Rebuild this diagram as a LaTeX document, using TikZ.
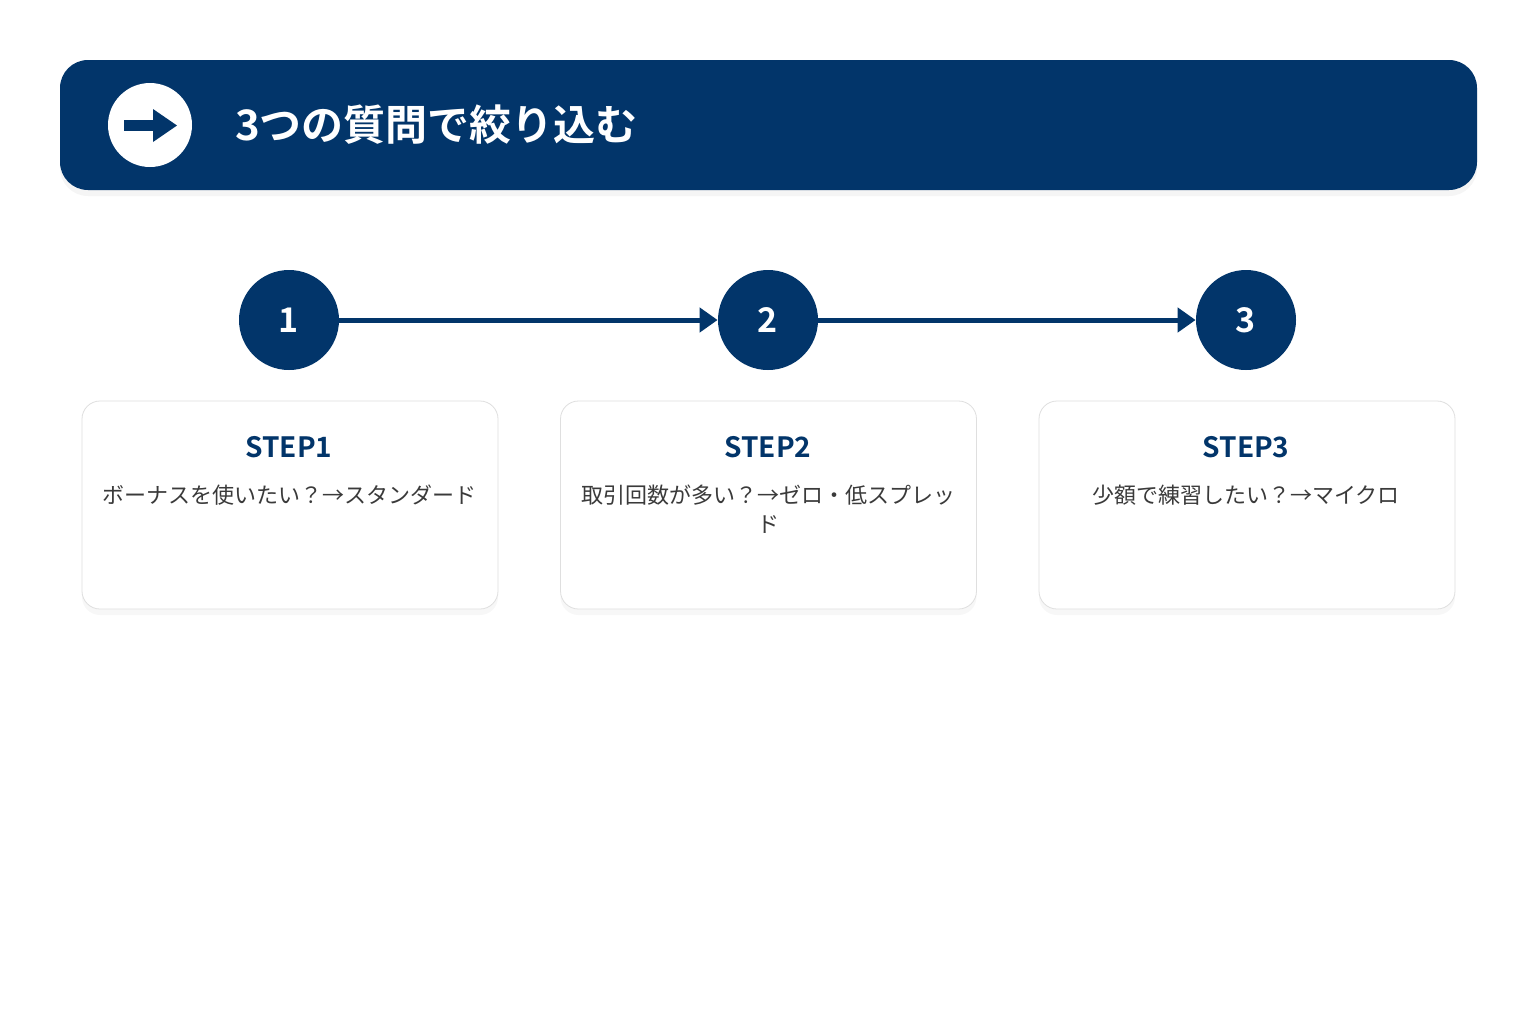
\documentclass[tikz,border=0pt]{standalone}
\usepackage{fontspec}
\setmainfont{Noto Sans CJK JP}
\newfontfamily\jpbold{Noto Sans CJK JP Bold}
\usetikzlibrary{arrows.meta,positioning,shadows}
\definecolor{navy}{HTML}{02356A}
\definecolor{bodygray}{HTML}{3A3A3A}
\tikzset{
    header/.style = {
        fill = navy,
        rounded corners=14pt,
        drop shadow={opacity=0.08, shadow xshift=0pt, shadow yshift=-3pt},
        },
    step circle/.style = {
        circle,
        fill = navy,
        minimum size=50pt,
        text = white,
        font=\jpbold\fontsize{17}{17}\selectfont,
        },
    step link/.style = {
        draw=navy,
        line width=2.5pt,
        -{Triangle[length=9pt,width=12pt]},
        },
    card/.style = {
        draw=gray!25,
        fill=white,
        rounded corners=9pt,
        minimum width=208pt,
        minimum height=104pt,
        drop shadow={opacity=0.06, shadow xshift=0pt, shadow yshift=-3pt},
        },
    step title/.style = {
        text = navy,
        font=\jpbold\fontsize{14}{14}\selectfont,
        },
    step text/.style = {
        text = bodygray,
        font=\fontsize{11}{14.5}\selectfont,
        align=center,
        },
}
\begin{document}
\begin{tikzpicture}[x=0.5pt,y=-0.5pt]
    \useasboundingbox (0,0) rectangle (1536,1024);
    \fill[white] (0,0) rectangle (1536,1024);

    % header bar
    \node[header, minimum width=708.5pt, minimum height=65pt] (bar) at (768.5,125) {};
    \node[circle, fill=white, minimum size=42pt] (icon) at (150,125) {};
    \fill[navy] (124,120) rectangle (155,131);
    \fill[navy] (153,109) -- (177,125.5) -- (153,142) -- cycle;
    \node[anchor=west, text=white, font=\jpbold\fontsize{21}{21}\selectfont] (title) at (228,125) {3つの質問で絞り込む};

    % steps
    \node[step circle] (c1) at (289,320) {1};
    \node[step circle] (c2) at (768,320) {2};
    \node[step circle] (c3) at (1246,320) {3};
    \draw[step link] (c1) -- (c2);
    \draw[step link] (c2) -- (c3);

    \node[card] (card1) at (290,505) {};
    \node[card] (card2) at (768.5,505) {};
    \node[card] (card3) at (1247,505) {};

    \node[step title] (t1) at (289,447) {STEP1};
    \node[step title] (t2) at (768,447) {STEP2};
    \node[step title] (t3) at (1246,447) {STEP3};

    \node[step text, anchor=north] (s1) at (289,478) {ボーナスを使いたい？→スタンダード};
    \node[step text, anchor=north] (s2) at (768,478) {取引回数が多い？→ゼロ・低スプレッ\\ド};
    \node[step text, anchor=north] (s3) at (1246,478) {少額で練習したい？→マイクロ};
\end{tikzpicture}
\end{document}
